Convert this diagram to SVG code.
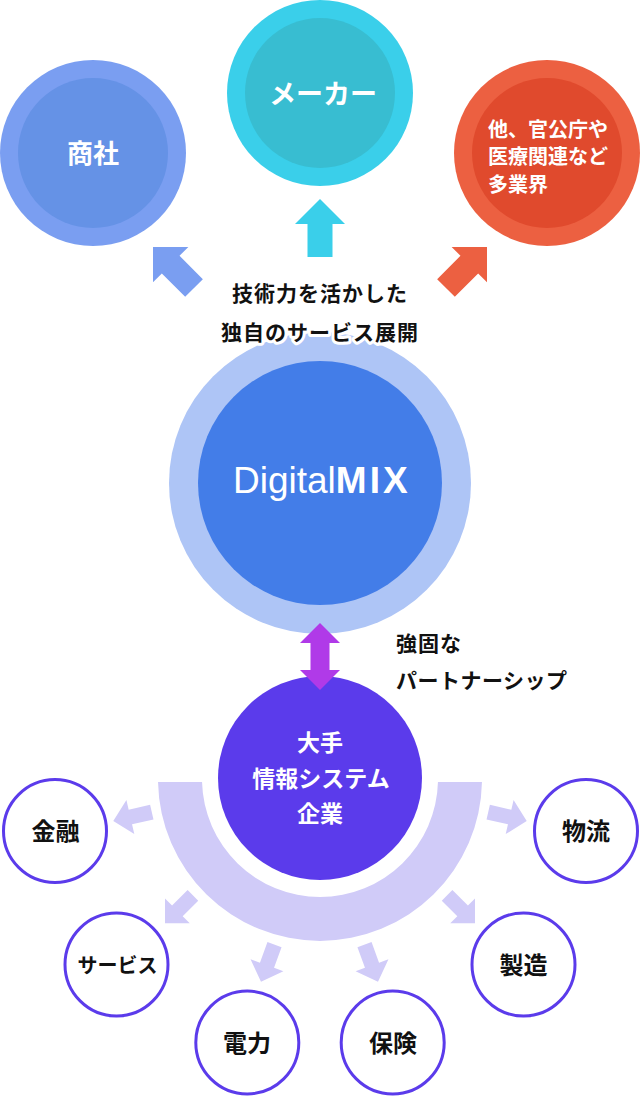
<svg xmlns="http://www.w3.org/2000/svg" xmlns:xlink="http://www.w3.org/1999/xlink" width="640" height="1097" viewBox="0 0 640 1097">
  <style>
    .jp { font-family: "Noto Sans CJK JP", "Noto Sans", sans-serif; font-weight: bold; }
    .wt { fill: #ffffff; }
    .bk { fill: #111111; }
    .mid { text-anchor: middle; }
    .halo { stroke: #ffffff; stroke-width: 6; stroke-linejoin: round; paint-order: stroke; }
    .ring { fill: #ffffff; stroke: #5B3BEB; stroke-width: 3; }
  </style>
  <defs>
    <path id="bigArrow" d="M0,0 L25,25 L12.5,25 L12.5,58 L-12.5,58 L-12.5,25 L-25,25 Z"/>
    <path id="smallArrow" d="M0,0 L17.5,17.5 L7.5,17.5 L7.5,39.5 L-7.5,39.5 L-7.5,17.5 L-17.5,17.5 Z"/>
  </defs>
  <rect width="640" height="1097" fill="#ffffff"/>

  <!-- top nodes -->
  <g id="node-shosha">
    <circle cx="93" cy="153" r="93" fill="#7A9EF1"/>
    <circle cx="93" cy="153" r="75" fill="#6592E6"/>
    <text class="jp wt mid" x="93" y="163" font-size="26">商社</text>
  </g>
  <g id="node-maker">
    <circle cx="320" cy="93" r="93" fill="#3ACFEA"/>
    <circle cx="320" cy="93" r="75" fill="#38BDD1"/>
    <text class="jp wt mid" x="323" y="104" font-size="27">メーカー</text>
  </g>
  <g id="node-other">
    <circle cx="547" cy="153" r="93" fill="#EC6041"/>
    <circle cx="547" cy="153" r="75" fill="#E04A2D"/>
    <text class="jp wt" x="488" y="136.5" font-size="20">他、官公庁や</text>
    <text class="jp wt" x="488" y="164" font-size="20">医療関連など</text>
    <text class="jp wt" x="488" y="191.5" font-size="20">多業界</text>
  </g>

  <!-- center node -->
  <g id="node-digitalmix">
    <circle cx="320" cy="483" r="151" fill="#AEC5F6"/>
    <circle cx="320" cy="483" r="122" fill="#437DE8"/>
    <text x="233" y="493" font-family="Liberation Sans, Arial, sans-serif" font-size="37" fill="#ffffff">Digital<tspan font-weight="bold" letter-spacing="3">MIX</tspan></text>
  </g>

  <g id="label-service">
    <text class="jp bk mid halo" x="320" y="300.5" font-size="21" letter-spacing="1">技術力を活かした</text>
    <text class="jp bk mid halo" x="320" y="340" font-size="21" letter-spacing="1">独自のサービス展開</text>
  </g>

  <!-- lavender arc -->
  <g id="arc">
    <path d="M158.03,782 A162,162 0 0 0 481.97,782 L437.96,782 A118,118 0 0 1 202.04,782 Z" fill="#D0CBF8"/>
  </g>

  <!-- bottom main node -->
  <g id="node-sier">
    <circle cx="320" cy="778" r="102" fill="#5B3BEB"/>
    <text class="jp wt mid" x="320" y="750.5" font-size="23">大手</text>
    <text class="jp wt mid" x="321" y="786.5" font-size="23">情報システム</text>
    <text class="jp wt mid" x="320" y="821.5" font-size="23">企業</text>
  </g>

  <g id="label-partner">
    <text class="jp bk" x="396" y="650.5" font-size="21" letter-spacing="1">強固な</text>
    <text class="jp bk" x="396" y="688" font-size="21" letter-spacing="0.5">パートナーシップ</text>
  </g>

  <!-- industry nodes -->
  <g id="node-kinyu">
    <circle class="ring" cx="55" cy="831" r="51.5"/>
    <text class="jp bk mid" x="55.5" y="840" font-size="24">金融</text>
  </g>
  <g id="node-butsuryu">
    <circle class="ring" cx="586" cy="831" r="51.5"/>
    <text class="jp bk mid" x="586" y="840" font-size="24">物流</text>
  </g>
  <g id="node-service">
    <circle class="ring" cx="116.5" cy="964.5" r="51.5"/>
    <text class="jp bk mid" x="117.5" y="972.5" font-size="20">サービス</text>
  </g>
  <g id="node-seizo">
    <circle class="ring" cx="523.5" cy="964.5" r="51.5"/>
    <text class="jp bk mid" x="523.5" y="973.5" font-size="24">製造</text>
  </g>
  <g id="node-denryoku">
    <circle class="ring" cx="247.3" cy="1042.5" r="51.5"/>
    <text class="jp bk mid" x="247" y="1052" font-size="24">電力</text>
  </g>
  <g id="node-hoken">
    <circle class="ring" cx="392.7" cy="1042.5" r="51.5"/>
    <text class="jp bk mid" x="393" y="1052" font-size="24">保険</text>
  </g>

  <!-- connectors -->
  <g id="connectors">
    <use xlink:href="#bigArrow" transform="translate(153,247) rotate(-45)" fill="#7A9EF1"/>
    <use xlink:href="#bigArrow" transform="translate(320,199)" fill="#3ACFEA"/>
    <use xlink:href="#bigArrow" transform="translate(487,247) rotate(45)" fill="#EC6041"/>
    <path d="M320,623 L340,643 L329.5,643 L329.5,670 L340,670 L320,690 L300,670 L310.5,670 L310.5,643 L300,643 Z" fill="#B03AE8"/>
    <use xlink:href="#smallArrow" transform="translate(113.3,821) rotate(-103)" fill="#D0CBF8"/>
    <use xlink:href="#smallArrow" transform="translate(526.7,821) rotate(103)" fill="#D0CBF8"/>
    <use xlink:href="#smallArrow" transform="translate(165,923.3) rotate(-135)" fill="#D0CBF8"/>
    <use xlink:href="#smallArrow" transform="translate(475,923.3) rotate(135)" fill="#D0CBF8"/>
    <use xlink:href="#smallArrow" transform="translate(261,981.7) rotate(-160)" fill="#D0CBF8"/>
    <use xlink:href="#smallArrow" transform="translate(378,981.7) rotate(160)" fill="#D0CBF8"/>
  </g>
</svg>
